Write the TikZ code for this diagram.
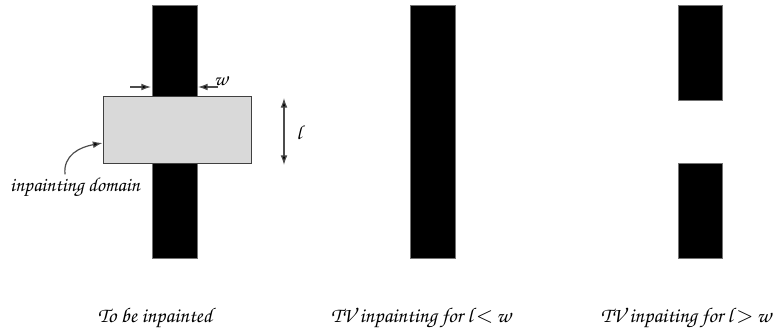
\documentclass[tikz,border=0pt]{standalone}
\usepackage{amsmath,amssymb}
\usepackage{xcolor}
\usepackage{tikz}
\usetikzlibrary{arrows.meta,positioning,calc}

\newcommand{\chan}{\fontencoding{T1}\fontfamily{pzc}\fontseries{m}\fontshape{it}\selectfont}

\begin{document}
\begin{tikzpicture}[
    x=0.5pt, y=-0.5pt,
    bar/.style={draw=black!55, fill=black, line width=0.3pt},
    domainbox/.style={draw=black!75, fill=black!15, line width=0.5pt},
    dim/.style={-{Latex[length=1.7mm, width=1.2mm, fill=black]}, draw=black!70, line width=0.6pt},
    lab/.style={font=\chan, inner sep=1pt},
    caption/.style={font=\chan\fontsize{10.5}{12}\selectfont, inner sep=1pt}
]
\useasboundingbox (0,0) rectangle (779,329);
% to be inpainted
\draw[bar] (152,5) rectangle (197,258);
\node[domainbox, minimum width=74pt, minimum height=33.5pt, inner sep=0pt] (domain) at (177,129.5) {};
\coordinate (wl) at (130,87);
\coordinate (wr) at (218,87);
\draw[dim] (wl) -- (151,87);
\draw[dim] (wr) -- (198,87);
\node[lab] (wlab) at (221,81) {w};
\coordinate (ltop) at (284,98);
\coordinate (lbot) at (284,165);
\draw[dim, {Latex[length=1.7mm, width=1.2mm, fill=black]}-{Latex[length=1.7mm, width=1.2mm, fill=black]}] (ltop) -- (lbot);
\node[lab] (llab) at (299,133) {l};
\node[lab] (domlab) at (75,187) {inpainting domain};
\draw[dim] (domlab.north -| 65,0) .. controls (63,155) and (80,147) .. (domain.west |- 0,143);
% TV inpainting, l < w
\draw[bar] (410,5) rectangle (455,258);
% TV inpainting, l > w
\draw[bar] (678,5) rectangle (722,100);
\draw[bar] (678,163) rectangle (722,258);
% captions
\node[caption] (c1) at (155,318) {To be inpainted};
\node[caption] (c2) at (421,318) {TV inpainting for l\,$<$\,w};
\node[caption] (c3) at (686,318) {TV inpaiting for l\,$>$\,w};
\end{tikzpicture}
\end{document}
